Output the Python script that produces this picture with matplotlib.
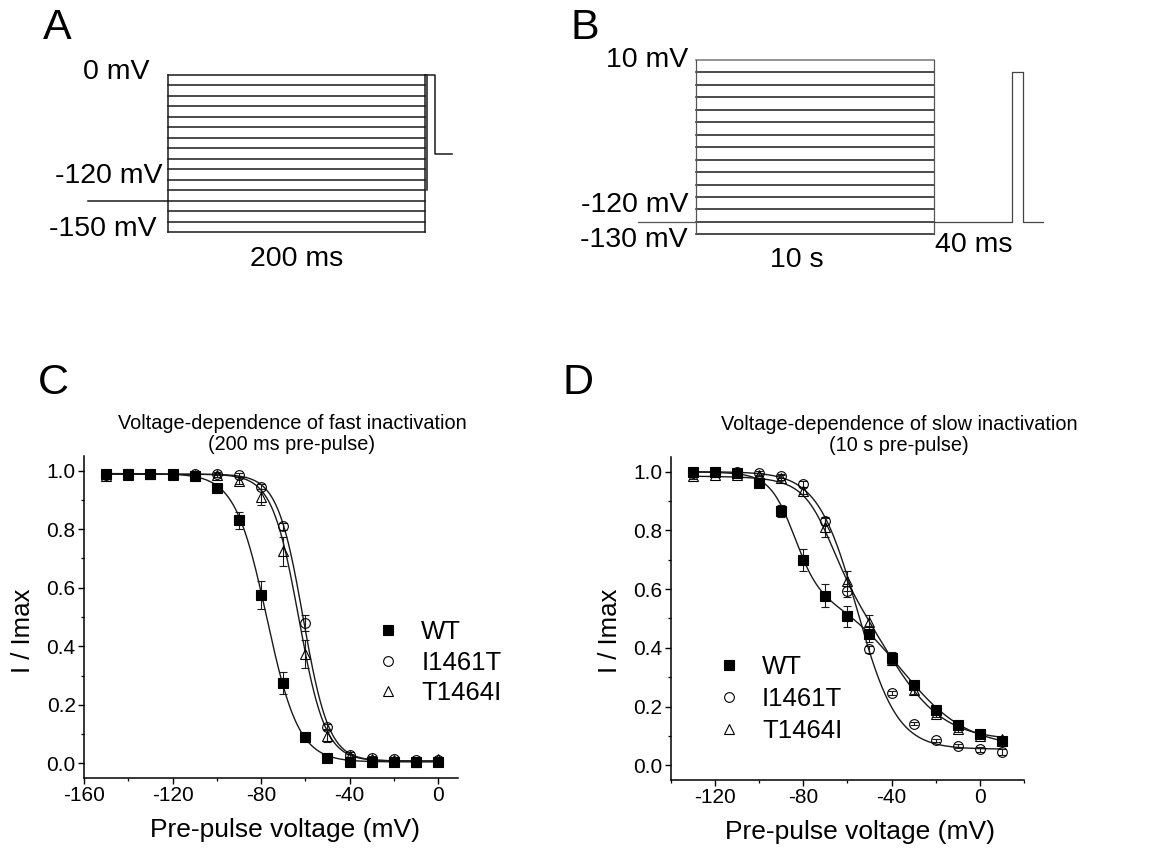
import numpy as np
import matplotlib
matplotlib.use('Agg')
import matplotlib.pyplot as plt
from matplotlib.ticker import MultipleLocator, FormatStrFormatter

plt.rcParams['font.family'] = ['Liberation Sans', 'DejaVu Sans']
plt.rcParams['axes.unicode_minus'] = False

# ---------------- Panel A protocol (ms, mV) ----------------
a_step_levels = list(range(-150, 1, 10))
a_holding_v = -120
a_holding_start = -62
a_step_dur = 200
a_test_v = 0
a_test_dur = 8
a_post_v = -75
a_post_dur = 13

# ---------------- Panel B protocol (drawing units, mV) ----------------
b_step_levels = list(range(-130, 11, 10))
b_holding_v = -120
b_holding_start = -2.42
b_step_dur = 10.0
b_gap = 3.28
b_test_v = 0
b_test_dur = 0.46
b_tail = 0.84

# ---------------- Panel C data ----------------
c_volt = list(range(-150, 1, 10))
c_wt = [0.99, 0.99, 0.99, 0.99, 0.98, 0.94, 0.83, 0.575, 0.275, 0.09, 0.02, 0.005, 0.005, 0.005, 0.005, 0.005]
c_wt_err = [0.005, 0.005, 0.005, 0.005, 0.005, 0.008, 0.03, 0.048, 0.037, 0.01, 0.005, 0.004, 0.004, 0.004, 0.004, 0.004]
c_i1461t = [0.985, 0.99, 0.99, 0.99, 0.99, 0.99, 0.985, 0.945, 0.81, 0.48, 0.125, 0.03, 0.02, 0.015, 0.01, 0.01]
c_i1461t_err = [0.006, 0.005, 0.006, 0.005, 0.005, 0.005, 0.006, 0.008, 0.012, 0.028, 0.01, 0.008, 0.006, 0.006, 0.006, 0.006]
c_t1464i = [0.98, 0.985, 0.99, 0.985, 0.985, 0.985, 0.965, 0.91, 0.725, 0.375, 0.095, 0.025, 0.015, 0.01, 0.005, 0.015]
c_t1464i_err = [0.008, 0.008, 0.008, 0.006, 0.006, 0.006, 0.012, 0.028, 0.05, 0.048, 0.022, 0.008, 0.006, 0.006, 0.006, 0.008]
# Boltzmann fit parameters: bottom, [(amplitude, V1/2, k), ...]
c_fit_wt = (0.005, [(0.985, -77.4, 7.2)])
c_fit_i1461t = (0.008, [(0.98, -61.0, 5.8)])
c_fit_t1464i = (0.008, [(0.98, -63.0, 6.0)])

# ---------------- Panel D data ----------------
d_volt = list(range(-130, 11, 10))
d_wt = [1.0, 1.0, 0.995, 0.96, 0.865, 0.70, 0.578, 0.507, 0.447, 0.365, 0.275, 0.19, 0.137, 0.107, 0.082]
d_wt_err = [0.005, 0.005, 0.005, 0.008, 0.02, 0.038, 0.04, 0.035, 0.028, 0.02, 0.012, 0.01, 0.008, 0.008, 0.008]
d_i1461t = [0.995, 1.0, 1.0, 0.995, 0.985, 0.957, 0.832, 0.595, 0.396, 0.246, 0.142, 0.085, 0.066, 0.054, 0.045]
d_i1461t_err = [0.005, 0.005, 0.005, 0.006, 0.008, 0.01, 0.015, 0.022, 0.012, 0.008, 0.006, 0.006, 0.006, 0.008, 0.01]
d_t1464i = [0.985, 0.99, 0.99, 0.99, 0.98, 0.935, 0.81, 0.628, 0.487, 0.36, 0.255, 0.175, 0.125, 0.10, 0.09]
d_t1464i_err = [0.01, 0.008, 0.008, 0.006, 0.008, 0.012, 0.032, 0.035, 0.025, 0.02, 0.012, 0.01, 0.01, 0.008, 0.008]
d_fit_wt = (0.06, [(0.40, -84.0, 5.5), (0.54, -36.0, 15.0)])
d_fit_i1461t = (0.055, [(0.945, -55.5, 9.0)])
d_fit_t1464i = (0.085, [(0.30, -68.0, 6.0), (0.60, -42.0, 13.0)])

series_names = ['WT', 'I1461T', 'T1464I']
x_label = 'Pre-pulse voltage (mV)'
y_label = 'I / Imax'
c_title = 'Voltage-dependence of fast inactivation\n(200 ms pre-pulse)'
d_title = 'Voltage-dependence of slow inactivation\n(10 s pre-pulse)'


def boltz(v, fit):
    bottom, comps = fit
    y = np.full(len(v), bottom, dtype=float)
    for amp, vh, k in comps:
        y = y + amp / (1.0 + np.exp((v - vh) / k))
    return y


W, H = 1153, 850
fig = plt.figure(figsize=(W / 100, H / 100), dpi=100)

LC = '#1a1a1a'
PROTO_FS = 20.5

# ---------------- Panel A ----------------
axA = fig.add_axes([78 / W, 1 - 242.5 / H, 385.5 / W, 178 / H])
axA.set_xlim(-70, 230)
axA.set_ylim(-160, 10)
axA.axis('off')
for lv in a_step_levels:
    axA.plot([0, a_step_dur], [lv, lv], color=LC, lw=1.1)
axA.plot([0, 0], [min(a_step_levels), max(a_step_levels)], color=LC, lw=1.1)
axA.plot([a_step_dur, a_step_dur], [min(a_step_levels), max(a_step_levels)], color=LC, lw=1.1)
axA.plot([a_step_dur + 1.5, a_step_dur + 1.5], [a_holding_v + 10, a_test_v], color=LC, lw=1.1)
axA.plot([a_holding_start, 0], [a_holding_v, a_holding_v], color=LC, lw=1.1)
axA.plot([a_step_dur, a_step_dur + a_test_dur, a_step_dur + a_test_dur,
          a_step_dur + a_test_dur + a_post_dur],
         [a_test_v, a_test_v, a_post_v, a_post_v], color=LC, lw=1.1)
axA.text(-14, 2.9, f'{max(a_step_levels)} mV', ha='right', va='center', fontsize=PROTO_FS)
axA.text(-3.9, -96.5, f'{a_holding_v} mV', ha='right', va='center', fontsize=PROTO_FS)
axA.text(-8.6, -147, f'{min(a_step_levels)} mV', ha='right', va='center', fontsize=PROTO_FS)
axA.text(100.4, -176, f'{a_step_dur} ms', ha='center', va='center', fontsize=PROTO_FS, clip_on=False)

# ---------------- Panel B ----------------
axB = fig.add_axes([600.5 / W, 1 - 246.75 / H, 476 / W, 199.2 / H])
axB.set_xlim(-4, 16)
axB.set_ylim(-140, 20)
axB.axis('off')
for lv in b_step_levels:
    col = '#777777' if lv == max(b_step_levels) else LC
    axB.plot([0, b_step_dur], [lv, lv], color=col, lw=1.1)
axB.plot([0, 0], [min(b_step_levels), max(b_step_levels)], color='#555555', lw=0.9)
axB.plot([b_step_dur, b_step_dur], [min(b_step_levels), max(b_step_levels)], color='#555555', lw=0.9)
axB.plot([b_holding_start, 0], [b_holding_v, b_holding_v], color='#555555', lw=0.9)
t1 = b_step_dur + b_gap
t2 = t1 + b_test_dur
axB.plot([b_step_dur, t1, t1, t2, t2, t2 + b_tail],
         [b_holding_v, b_holding_v, b_test_v, b_test_v, b_holding_v, b_holding_v],
         color='#444444', lw=0.9)
axB.text(-0.32, 10, f'{max(b_step_levels)} mV', ha='right', va='center', fontsize=PROTO_FS)
axB.text(-0.32, -106.5, f'{b_holding_v} mV', ha='right', va='center', fontsize=PROTO_FS)
axB.text(-0.32, -134.6, f'{min(b_step_levels)} mV', ha='right', va='center', fontsize=PROTO_FS)
axB.text(4.26, -151, '10 s', ha='center', va='center', fontsize=PROTO_FS, clip_on=False)
axB.text(10.05, -138.6, '40 ms', ha='left', va='center', fontsize=PROTO_FS, clip_on=False)


# ---------------- Curves panels ----------------
def curve_panel(rect, volt, ys, errs, fits, xlim, xmaj, title, title_x,
                leg_anchor, leg_spacing, xlab_x, ylab_y):
    ax = fig.add_axes(rect)
    v = np.array(volt, dtype=float)
    vf = np.linspace(v.min(), v.max(), 400)
    for fit in fits:
        ax.plot(vf, boltz(vf, fit), color=LC, lw=1.0, zorder=2)
    styles = [('s', 'black', 6.5), ('o', 'none', 7), ('^', 'none', 7)]
    handles = []
    for (mk, fc, ms), y, e, name in zip(styles, ys, errs, series_names):
        ax.errorbar(v, y, yerr=e, fmt='none', ecolor=LC, elinewidth=0.8,
                    capsize=3, capthick=0.8, zorder=3)
        h, = ax.plot(v, y, linestyle='none', marker=mk, ms=ms,
                     mfc=fc, mec='black', mew=0.8, zorder=4, label=name)
        handles.append(h)
    ax.set_xlim(*xlim)
    ax.set_ylim(-0.05, 1.05)
    ax.xaxis.set_major_locator(MultipleLocator(xmaj))
    ax.xaxis.set_minor_locator(MultipleLocator(20))
    ax.yaxis.set_major_locator(MultipleLocator(0.2))
    ax.yaxis.set_minor_locator(MultipleLocator(0.1))
    ax.yaxis.set_major_formatter(FormatStrFormatter('%.1f'))
    for s in ['top', 'right']:
        ax.spines[s].set_visible(False)
    for s in ['left', 'bottom']:
        ax.spines[s].set_linewidth(1.1)
    ax.tick_params(which='major', direction='out', length=4, width=1.0, labelsize=15, pad=2)
    ax.tick_params(which='minor', direction='out', length=2.5, width=0.9)
    ax.set_xlabel(x_label, fontsize=19, labelpad=9)
    ax.set_ylabel(y_label, fontsize=18.5, labelpad=8)
    ax.xaxis.label.set_x(xlab_x)
    ax.yaxis.label.set_y(ylab_y)
    ax.text(title_x, 1.005, title, transform=ax.transAxes, ha='center', va='bottom',
            fontsize=14.3, linespacing=1.15)
    ax.legend(handles=handles, loc='upper left', bbox_to_anchor=leg_anchor, frameon=False,
              fontsize=18.5, handlelength=0.8, handletextpad=0.9, labelspacing=leg_spacing,
              borderpad=0, borderaxespad=0)
    return ax


curve_panel([84 / W, 1 - 778 / H, 374 / W, 322 / H], c_volt,
            [c_wt, c_i1461t, c_t1464i], [c_wt_err, c_i1461t_err, c_t1464i_err],
            [c_fit_wt, c_fit_i1461t, c_fit_t1464i], (-160, 9), 40, c_title, 0.556,
            (0.785, 0.492), 0.27, 0.537, 0.457)

curve_panel([670.7 / W, 1 - 780 / H, 353.3 / W, 323 / H], d_volt,
            [d_wt, d_i1461t, d_t1464i], [d_wt_err, d_i1461t_err, d_t1464i_err],
            [d_fit_wt, d_fit_i1461t, d_fit_t1464i], (-140, 20), 40, d_title, 0.646,
            (0.135, 0.387), 0.31, 0.536, 0.461)

# Panel letters
for letter, px, py in [('A', 43, 28), ('B', 570, 28), ('C', 38, 383), ('D', 562, 383)]:
    fig.text(px / W, 1 - py / H, letter, fontsize=31, ha='left', va='center')

fig.savefig('out.png', dpi=100, facecolor='white')
